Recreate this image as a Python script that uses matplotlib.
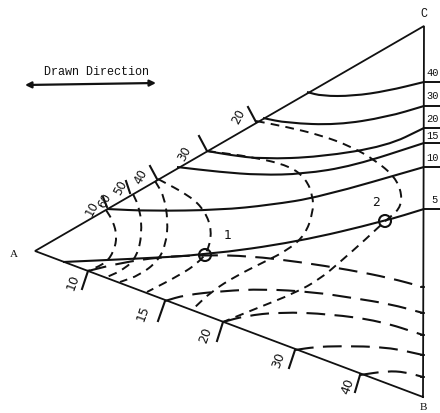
import numpy as np
import matplotlib
matplotlib.use("Agg")
import matplotlib.pyplot as plt
from matplotlib.path import Path
from matplotlib.patches import PathPatch, Circle

# Triangle corners (drawing units, y grows downwards)
corner_a = (35, 252)
corner_b = (423, 398)
corner_c = (424, 27)

# Solid curves: label -> points from the upper edge to the right side
solid_labels = ["40", "30", "20", "15", "10", "5"]
solid_40 = [(307, 93), (322, 97), (353, 97), (387, 92), (424, 83)]
solid_30 = [(263, 119), (287, 124), (337, 126), (387, 118), (424, 107)]
solid_20 = [(207, 152), (230, 156), (262, 160), (320, 158), (387, 147), (424, 129)]
solid_15 = [(177, 168), (220, 173), (260, 176), (303, 175), (353, 167), (424, 144)]
solid_10 = [(107, 210), (150, 212), (220, 211), (270, 206), (320, 198), (424, 168)]
solid_5 = [(63, 263), (130, 260), (205, 256), (297, 243), (385, 222), (424, 210)]
solid_curves = [solid_40, solid_30, solid_20, solid_15, solid_10, solid_5]
solid_label_y = [73, 96, 119, 136, 158, 200]

# Short-dash curves running from the upper edge round to the lower edge
dash_1 = [(106, 211), (113, 222), (117, 237), (114, 252), (106, 264), (88, 272)]
dash_2 = [(133, 195), (140, 210), (142, 235), (137, 257), (125, 270), (107, 278)]
dash_3 = [(155, 182), (164, 197), (168, 222), (166, 245), (158, 262), (140, 276), (120, 283)]
dash_4 = [(158, 180), (190, 197), (205, 212), (212, 232), (208, 252), (198, 264), (180, 276), (147, 293)]
dash_5 = [(207, 152), (253, 158), (290, 167), (306, 180), (313, 197), (313, 214), (305, 236),
          (288, 251), (264, 263), (236, 277), (212, 292), (192, 311)]
dash_6 = [(256, 122), (287, 128), (320, 136), (350, 147), (375, 161), (395, 178), (402, 195),
          (400, 210), (385, 222), (366, 240), (340, 263), (320, 280), (295, 294), (255, 310), (223, 323)]
short_dash_curves = [dash_1, dash_2, dash_3, dash_4, dash_5, dash_6]

# Long-dash curves from the lower edge to the right side
long_10 = [(88, 272), (120, 264), (160, 258), (205, 256), (250, 257), (300, 263), (350, 271),
           (390, 279), (423, 288)]
long_15 = [(165, 302), (185, 296), (223, 292), (263, 290), (313, 293), (353, 299), (390, 305), (423, 314)]
long_20 = [(223, 323), (245, 317), (280, 313), (330, 315), (380, 322), (423, 336)]
long_30 = [(295, 351), (315, 348), (340, 347), (387, 348), (423, 356)]
long_40 = [(360, 376), (387, 372), (405, 373), (423, 378)]
long_dash_curves = [long_10, long_15, long_20, long_30, long_40]

# Edge ticks and their labels
upper_ticks = [(256, 123, 248, 108), (207, 152, 199, 137), (157, 180, 150, 167),
               (130, 194, 126, 182), (107, 208, 103, 198)]
upper_labels = ["20", "30", "40", "50", "60", "10"]
upper_label_xy = [(239, 117), (185, 154), (141, 177), (120, 188), (105, 201), (92, 209)]
lower_ticks = [(88, 272, 82, 290), (165, 302, 158, 322), (223, 323, 217, 342),
               (295, 351, 289, 369), (360, 376, 355, 393)]
lower_labels = ["10", "15", "20", "30", "40"]
lower_label_xy = [(73, 282), (143, 313), (206, 335), (279, 360), (348, 386)]

# Marked points
point_names = ["1", "2"]
point_xy = [(205, 256), (385, 222)]
point_label_xy = [(228, 236), (376, 203)]


def smooth_path(pts):
    # quadratic Bezier through segment midpoints
    pts = np.asarray(pts, dtype=float)
    verts = [pts[0]]
    codes = [Path.MOVETO]
    for i in range(1, len(pts) - 1):
        mid = (pts[i] + pts[i + 1]) / 2
        if i == 1:
            verts.append((pts[0] + pts[1]) / 2)
            codes.append(Path.LINETO)
        verts += [pts[i], mid]
        codes += [Path.CURVE3, Path.CURVE3]
    verts.append(pts[-1])
    codes.append(Path.LINETO)
    return Path(verts, codes)


def draw_curve(ax, pts, **kw):
    ax.add_patch(PathPatch(smooth_path(pts), fill=False, capstyle="butt", **kw))


fig = plt.figure(figsize=(4.4, 4.14), dpi=100)
ax = fig.add_axes([0, 0, 1, 1])
ax.set_xlim(0, 440)
ax.set_ylim(414, 0)
ax.axis("off")

ink = "#111111"
mono = "Liberation Mono"

# triangle outline
tri_x = [corner_b[0], corner_a[0], corner_c[0], corner_b[0]]
tri_y = [corner_b[1], corner_a[1], corner_c[1], corner_b[1]]
ax.plot(tri_x, tri_y, color=ink, lw=1.3, solid_joinstyle="miter")

for pts, lab, ly in zip(solid_curves, solid_labels, solid_label_y):
    draw_curve(ax, pts, color=ink, lw=1.5)
    ax.plot([pts[-1][0], 440], [pts[-1][1], pts[-1][1]], color=ink, lw=1.4)
    ax.text(426.5 if lab != "5" else 431, ly, lab, fontsize=7.5, family=mono,
            ha="left", va="center", color=ink)

for pts in short_dash_curves:
    draw_curve(ax, pts, color=ink, lw=1.4, linestyle=(0, (4.5, 3.2)))

for pts in long_dash_curves:
    draw_curve(ax, pts, color=ink, lw=1.5, linestyle=(0, (9, 4.5)))
    ax.plot([pts[-1][0] - 2, pts[-1][0] + 1], [pts[-1][1], pts[-1][1]], color=ink, lw=1.3)

for x0, y0, x1, y1 in upper_ticks + lower_ticks:
    ax.plot([x0, x1], [y0, y1], color=ink, lw=1.5)

for lab, (x, y) in zip(upper_labels, upper_label_xy):
    ax.text(x, y, lab, fontsize=8.5, rotation=62, ha="center", va="center", color=ink)
for lab, (x, y) in zip(lower_labels, lower_label_xy):
    ax.text(x, y, lab, fontsize=9, rotation=70, ha="center", va="center", color=ink)

for name, (x, y), (lx, ly) in zip(point_names, point_xy, point_label_xy):
    ax.add_patch(Circle((x, y), 6, fill=False, ec=ink, lw=1.5))
    ax.text(lx, ly, name, fontsize=9, ha="center", va="center", color=ink)

# corner letters
ax.text(14, 255, "A", fontsize=8, family="Liberation Serif", ha="center", va="center", color=ink)
ax.text(423, 408, "B", fontsize=8, family="Liberation Serif", ha="center", va="center", color=ink)
ax.text(424, 14, "C", fontsize=8.5, family=mono, ha="center", va="center", color=ink)

# legend for the drawing direction
ax.text(96, 72, "Drawn Direction", fontsize=8.5, family=mono, ha="center", va="center", color=ink)
ax.annotate("", xy=(25, 86), xytext=(156, 84),
            arrowprops=dict(arrowstyle="<|-|>", color=ink, lw=1.6,
                            mutation_scale=9, shrinkA=0, shrinkB=0))

fig.savefig("out.png", dpi=100, facecolor="white")
